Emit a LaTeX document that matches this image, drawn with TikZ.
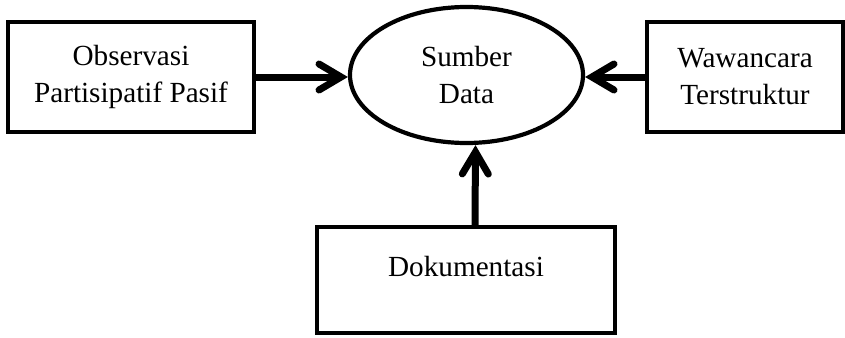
\documentclass[tikz,border=0pt]{standalone}
\usepackage{fontspec}
\setmainfont{Liberation Serif}
\usepackage{tikz}
\usetikzlibrary{shapes.geometric, arrows.meta, positioning, calc}
\definecolor{mydark}{RGB}{0,0,0}
\tikzset{
  srcbox/.style={rectangle, draw=mydark, fill=white,
    align=center, font=\fontsize{14.6}{18.5}\selectfont,
    line width=2.2pt, inner sep=0pt},
  srcell/.style={ellipse, draw=mydark, fill=white,
    align=center, font=\fontsize{14.6}{18.5}\selectfont,
    line width=2.1pt, inner sep=0pt},
  arrow/.style={-{Straight Barb[length=11pt, width=13pt, line cap=round]},
    line width=3.5pt, color=mydark}
}

\begin{document}
\begin{tikzpicture}[x=0.5pt, y=-0.5pt]
  \useasboundingbox (0,0) rectangle (845,337);
  \node[srcell, minimum width=116.5pt, minimum height=68pt] (src) at (466.5,75)
    {Sumber\\Data};
  \node[srcbox, minimum width=123pt, minimum height=55pt] (obs) at (131,77)
    {Observasi\\Partisipatif Pasif};
  \node[srcbox, minimum width=98pt, minimum height=55pt] (waw) at (745,77)
    {Wawancara\\Terstruktur};
  \node[srcbox, minimum width=149pt, minimum height=53pt,
    text height=9pt, text depth=13pt] (dok) at (466,280) {Dokumentasi};
  \draw[arrow] (obs.east) -- (obs.east -| src.west);
  \draw[arrow] (waw.west) -- (waw.west -| src.east);
  \draw[arrow] ([xshift=4.5pt]dok.north) -- ([xshift=4.5pt]src.south);
\end{tikzpicture}
\end{document}
